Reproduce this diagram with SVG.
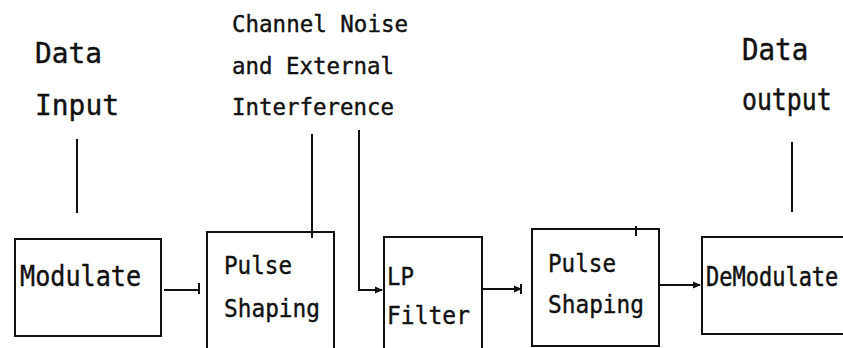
<svg xmlns="http://www.w3.org/2000/svg" width="843" height="348" viewBox="0 0 843 348">
<defs>
<style>
.box{fill:#fff;stroke:#111;stroke-width:2}
.t{font-family:"DejaVu Sans Mono","Liberation Mono",monospace;fill:#111;stroke:#111;stroke-width:0.4}
.c{stroke:#111;stroke-width:2;fill:none}
</style>
<marker id="ah" markerWidth="8" markerHeight="8" refX="7" refY="4" orient="auto" markerUnits="userSpaceOnUse">
<path d="M0,0.5 L8,4 L0,7.5 Z" fill="#111"/>
</marker>
</defs>
<rect width="843" height="348" fill="#fff"/>
<g id="label-data-input">
<text class="t" x="35" y="63" font-size="28" textLength="67" lengthAdjust="spacingAndGlyphs">Data</text>
<text class="t" x="35" y="115" font-size="28" textLength="84" lengthAdjust="spacingAndGlyphs">Input</text>
</g>
<g id="label-noise">
<text class="t" x="232" y="32" font-size="23" textLength="176" lengthAdjust="spacingAndGlyphs">Channel Noise</text>
<text class="t" x="232" y="74" font-size="23" textLength="162" lengthAdjust="spacingAndGlyphs">and External</text>
<text class="t" x="232" y="115" font-size="23" textLength="162" lengthAdjust="spacingAndGlyphs">Interference</text>
</g>
<g id="label-data-output">
<text class="t" transform="translate(742,60) scale(1,1.1)" font-size="27.5">Data</text>
<text class="t" transform="translate(742,110) scale(1,1.22)" font-size="24.8">output</text>
</g>
<g id="modulate">
<rect class="box" x="15" y="239" width="146" height="97"/>
<text class="t" x="20" y="286" font-size="28" textLength="121" lengthAdjust="spacingAndGlyphs">Modulate</text>
</g>
<g id="pulse-shaping-1">
<rect class="box" x="207" y="232" width="127" height="130"/>
<text class="t" x="224" y="274" font-size="25" textLength="68" lengthAdjust="spacingAndGlyphs">Pulse</text>
<text class="t" x="224" y="317" font-size="25" textLength="96" lengthAdjust="spacingAndGlyphs">Shaping</text>
</g>
<g id="lp-filter">
<rect class="box" x="384" y="237" width="98" height="125"/>
<text class="t" x="387" y="285" font-size="25" textLength="27" lengthAdjust="spacingAndGlyphs">LP</text>
<text class="t" x="387" y="324" font-size="25" textLength="83" lengthAdjust="spacingAndGlyphs">Filter</text>
</g>
<g id="pulse-shaping-2">
<rect class="box" x="532" y="229" width="127" height="117"/>
<text class="t" x="548" y="272" font-size="25" textLength="68" lengthAdjust="spacingAndGlyphs">Pulse</text>
<text class="t" x="548" y="313" font-size="25" textLength="96" lengthAdjust="spacingAndGlyphs">Shaping</text>
</g>
<g id="demodulate">
<rect class="box" x="702" y="237" width="150" height="97"/>
<text class="t" transform="translate(706,286) scale(1,1.22)" font-size="22">DeModulate</text>
</g>
<g id="connectors">
<line class="c" x1="77" y1="139" x2="77" y2="213"/>
<line class="c" x1="792" y1="142" x2="792" y2="212"/>
<line class="c" x1="312" y1="134" x2="312" y2="238"/>
<path class="c" d="M359,130 V290 H382" marker-end="url(#ah)"/>
<line class="c" x1="164" y1="290" x2="199" y2="290"/>
<line class="c" x1="199" y1="283" x2="199" y2="294"/>
<line class="c" x1="482" y1="289" x2="521" y2="289" marker-end="url(#ah)"/>
<line class="c" x1="521" y1="284" x2="521" y2="294"/>
<line class="c" x1="659" y1="285" x2="700" y2="285" marker-end="url(#ah)"/>
<line class="c" x1="636" y1="226" x2="636" y2="236"/>
</g>
</svg>
